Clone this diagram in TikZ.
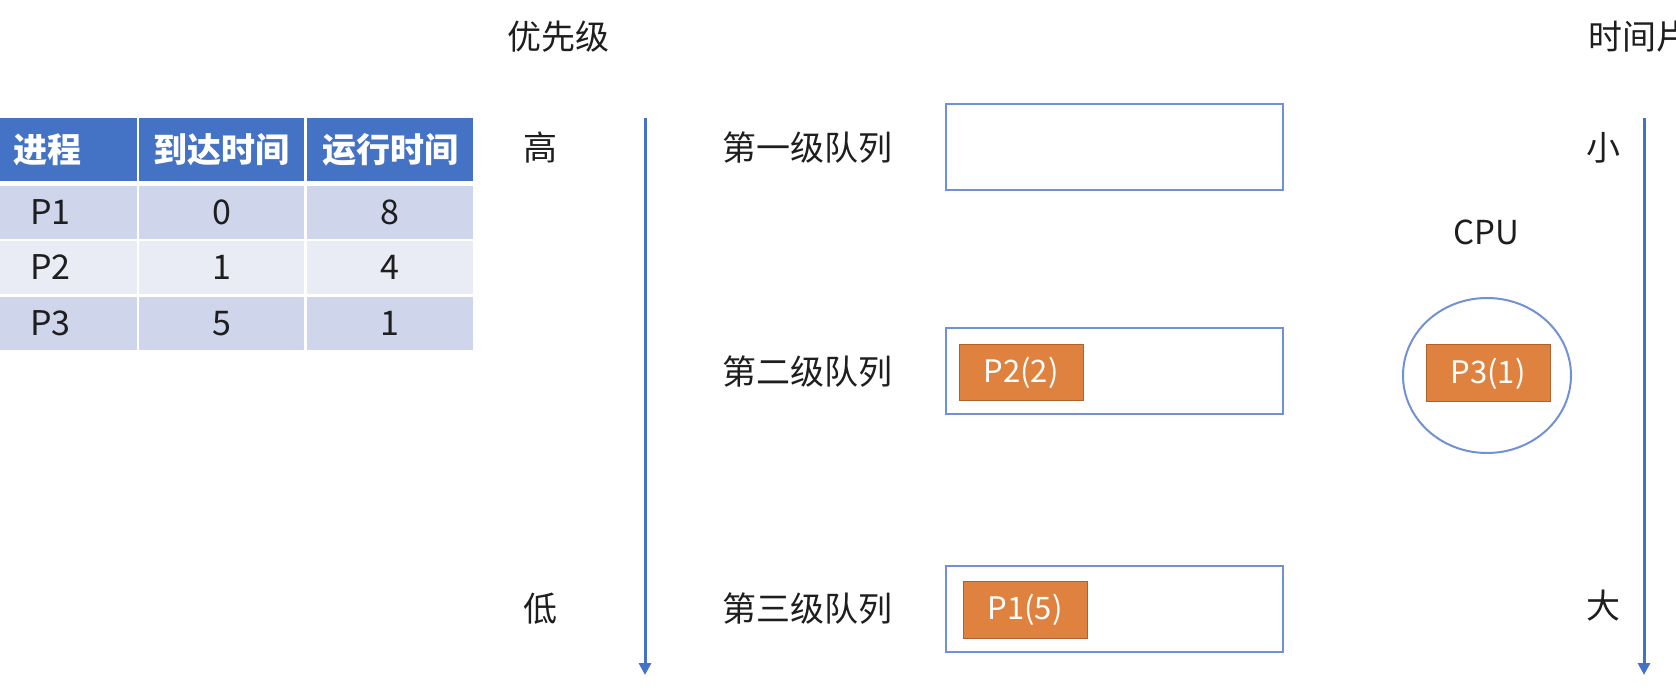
\documentclass[tikz,border=0pt]{standalone}
\usepackage{fontspec}
\setmainfont{Noto Sans CJK SC}
\usetikzlibrary{arrows.meta,shapes.geometric}

\definecolor{hdrblue}{HTML}{4472C4}
\definecolor{boxblue}{HTML}{7191D6}
\definecolor{rowdark}{HTML}{CFD5EA}
\definecolor{rowlight}{HTML}{E9EBF5}
\definecolor{procorange}{HTML}{E0823F}
\definecolor{procedge}{HTML}{B0612B}
\definecolor{ink}{HTML}{1E1E1E}

\newcommand{\bigfont}{\fontsize{34}{40}\selectfont}

\tikzset{
  lbl/.style={inner sep=0pt, text=ink, font=\bigfont},
  hcell/.style={fill=hdrblue, text=white, inner sep=0pt, minimum height=63pt, font=\bigfont\bfseries},
  dcell/.style={inner sep=0pt, minimum height=53pt, text=ink, font=\bigfont},
  queue/.style={draw=boxblue, line width=2pt, minimum width=337pt, minimum height=86pt},
  proc/.style={fill=procorange, draw=procedge, line width=1pt, text=white, minimum width=124pt, minimum height=56pt, inner sep=0pt, font=\fontsize{31}{36}\selectfont},
  axis/.style={draw=hdrblue, line width=3pt, -{Triangle[width=12pt,length=12pt]}}
}

\begin{document}
\begin{tikzpicture}[x=1pt,y=-1pt]
	\useasboundingbox (0,0) rectangle (1676,700);
	\clip (0,0) rectangle (1676,700);

	% table
	\node[hcell, minimum width=137pt, text width=111pt, align=left] (h-proc) at (68.5,149.5) {进程};
	\node[hcell, minimum width=165pt] (h-arr) at (221.5,149.5) {到达时间};
	\node[hcell, minimum width=166pt] (h-run) at (390,149.5) {运行时间};
	\foreach \p/\a/\r/\y/\c in {P1/0/8/212.5/rowdark, P2/1/4/267.5/rowlight, P3/5/1/323.5/rowdark}{
		\node[dcell, fill=\c, minimum width=137pt, text width=77pt, align=left] (t-\p) at (68.5,\y) {\p};
		\node[dcell, fill=\c, minimum width=165pt] (t-\p-arr) at (221.5,\y) {\a};
		\node[dcell, fill=\c, minimum width=166pt] (t-\p-run) at (390,\y) {\r};
	}

	% priority
	\node[lbl] (prio) at (558,37) {优先级};
	\node[lbl] (high) at (540.5,147.5) {高};
	\node[lbl] (low) at (540.5,609) {低};
	\coordinate (prioTop) at (645,118);
	\coordinate (prioBot) at (645,675);
	\draw[axis] (prioTop) -- (prioBot);

	% queues
	\node[lbl] (ql1) at (807.5,147.5) {第一级队列};
	\node[lbl] (ql2) at (807.5,371.5) {第二级队列};
	\node[lbl] (ql3) at (807.5,609) {第三级队列};
	\node[queue] (q1) at (1114.5,147.5) {};
	\node[queue] (q2) at (1114.5,371.5) {};
	\node[queue] (q3) at (1114.5,608.5) {};
	\node[proc] (p2) at (1021,373) {P2(2)};
	\node[proc, minimum height=57pt] (p1) at (1025,610) {P1(5)};

	% cpu
	\node[lbl, font=\fontsize{33}{38}\selectfont] (cpuname) at (1486.5,232) {CPU};
	\node[ellipse, draw=boxblue, line width=2pt, minimum width=168pt, minimum height=155pt] (cpu) at (1487,375.5) {};
	\node[proc, minimum height=57pt] (p3) at (1488,373.5) {P3(1)};

	% time slice
	\node[lbl, anchor=west] (slice) at (1588,37) {时间片};
	\node[lbl] (small) at (1603,147.5) {小};
	\node[lbl] (large) at (1603,606) {大};
	\coordinate (sliceTop) at (1644,118);
	\coordinate (sliceBot) at (1644,675);
	\draw[axis] (sliceTop) -- (sliceBot);
\end{tikzpicture}
\end{document}
